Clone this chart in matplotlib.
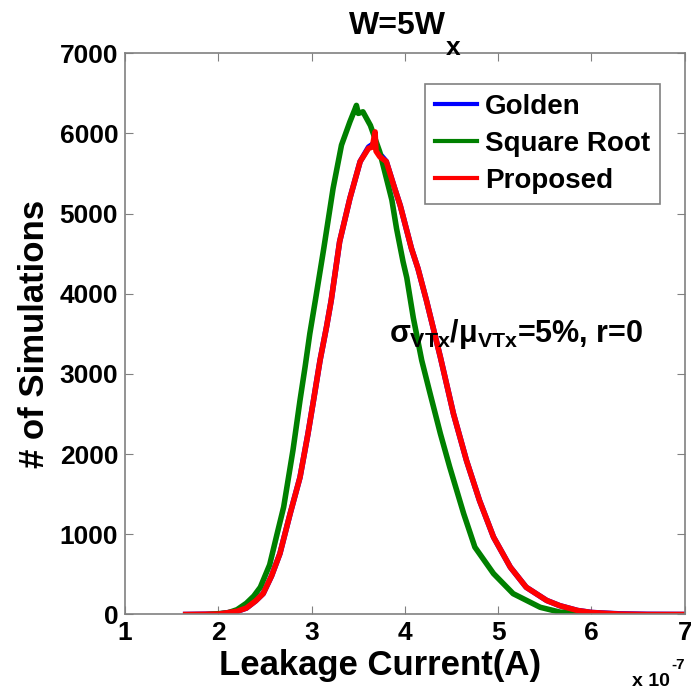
import matplotlib
matplotlib.use("Agg")
import matplotlib.pyplot as plt

plt.rcParams["font.family"] = ["Liberation Sans", "DejaVu Sans"]
plt.rcParams["font.weight"] = "bold"
plt.rcParams["mathtext.fontset"] = "custom"
plt.rcParams["mathtext.rm"] = "Liberation Sans:bold"
plt.rcParams["mathtext.it"] = "Liberation Sans:bold"
plt.rcParams["mathtext.bf"] = "Liberation Sans:bold"

# leakage current in units of 1e-7 A, counts
golden_x = [1.65, 2.0, 2.2, 2.3, 2.4, 2.48, 2.57, 2.66, 2.77, 2.875, 2.96, 3.02, 3.09, 3.16,
            3.21, 3.30, 3.41, 3.52, 3.61, 3.66, 3.72, 3.80, 3.89, 3.95, 4.07, 4.14, 4.23,
            4.38, 4.52, 4.66, 4.80, 4.95, 5.13, 5.30, 5.52, 5.66, 5.85, 6.0, 6.3, 6.6, 7.0]
golden_y = [0, 5, 40, 80, 170, 260, 480, 760, 1260, 1710, 2250, 2670, 3170, 3590,
            3920, 4650, 5190, 5650, 5830, 5870, 5760, 5650, 5315, 5100, 4565, 4315, 3920,
            3210, 2505, 1920, 1420, 965, 590, 340, 175, 110, 50, 25, 8, 2, 0]

sqrt_x = [1.9, 2.1, 2.2, 2.3, 2.38, 2.45, 2.55, 2.63, 2.70, 2.80, 2.875, 2.93, 2.98, 3.04,
          3.13, 3.23, 3.32, 3.41, 3.46, 3.48, 3.50, 3.55, 3.63, 3.73, 3.82, 3.86, 3.91,
          3.98, 4.02, 4.09, 4.18, 4.27, 4.38, 4.48, 4.63, 4.75, 4.95, 5.16, 5.45, 5.66,
          5.9, 6.2]
sqrt_y = [0, 20, 60, 140, 230, 340, 620, 1007, 1340, 2050, 2670, 3090, 3500, 3920,
          4565, 5315, 5855, 6145, 6290, 6350, 6250, 6270, 6100, 5770, 5355, 5170, 4815,
          4400, 4200, 3700, 3170, 2755, 2256, 1840, 1257, 840, 510, 260, 90, 30,
          10, 0]

prop_x = [1.65, 2.0, 2.2, 2.3, 2.4, 2.48, 2.57, 2.66, 2.77, 2.875, 2.96, 3.02, 3.09, 3.16,
          3.21, 3.30, 3.41, 3.52, 3.61, 3.65, 3.68, 3.69, 3.73, 3.80, 3.89, 3.95, 4.07,
          4.14, 4.23, 4.38, 4.52, 4.66, 4.80, 4.95, 5.13, 5.30, 5.52, 5.66, 5.85, 6.0,
          6.3, 6.6, 7.0]
prop_y = [0, 5, 40, 80, 170, 260, 480, 760, 1260, 1710, 2250, 2670, 3170, 3590,
          3920, 4650, 5190, 5650, 5815, 5830, 6020, 5780, 5710, 5650, 5315, 5100, 4565,
          4315, 3920, 3210, 2505, 1920, 1420, 965, 590, 340, 175, 110, 50, 25,
          5, 0, 0]

fig = plt.figure(figsize=(6.91, 6.92), dpi=100)
ax = fig.add_axes([0.181, 0.112, 0.810, 0.811])

ax.plot(golden_x, golden_y, color="#0000ff", linewidth=4, label="Golden")
ax.plot(sqrt_x, sqrt_y, color="#008000", linewidth=4, label="Square Root")
ax.plot(prop_x, prop_y, color="#ff0000", linewidth=4, label="Proposed")

ax.set_xlim(1, 7)
ax.set_ylim(0, 7000)
ax.set_xticks(range(1, 8))
ax.set_yticks(range(0, 7001, 1000))
ax.tick_params(direction="in", length=6, top=True, right=True, labelsize=19,
               color="#808080", pad=5)
for s in ax.spines.values():
    s.set_color("#808080")
    s.set_linewidth(1.2)

# title with a big, low subscript like the MATLAB original
fig.text(0.645, 0.962, "W=5W", fontsize=23, fontweight="bold", ha="right", va="center")
fig.text(0.645, 0.930, "x", fontsize=19, fontweight="bold", ha="left", va="center")

ax.set_xlabel("Leakage Current(A)", fontsize=25, fontweight="bold")
ax.xaxis.set_label_coords(0.455, -0.062)
ax.set_ylabel("# of Simulations", fontsize=25, fontweight="bold", labelpad=6)

# scale factor in the bottom right corner
fig.text(0.914, 0.008, "x 10", fontsize=14, fontweight="bold")
fig.text(0.971, 0.033, "-7", fontsize=11, fontweight="bold")

ax.text(3.83, 3400, r"$\sigma_{VTx}/\mu_{VTx}$=5%, r=0", fontsize=22, fontweight="bold")

leg = ax.legend(loc="upper right", fontsize=20, handlelength=1.5, handletextpad=0.3,
                borderpad=0.35, labelspacing=0.4, fancybox=False, framealpha=1,
                bbox_to_anchor=(0.98, 0.97))
leg.get_frame().set_edgecolor("#808080")
leg.get_frame().set_linewidth(1.2)
for line in leg.get_lines():
    line.set_linewidth(3)

fig.savefig("out.png", dpi=100)
